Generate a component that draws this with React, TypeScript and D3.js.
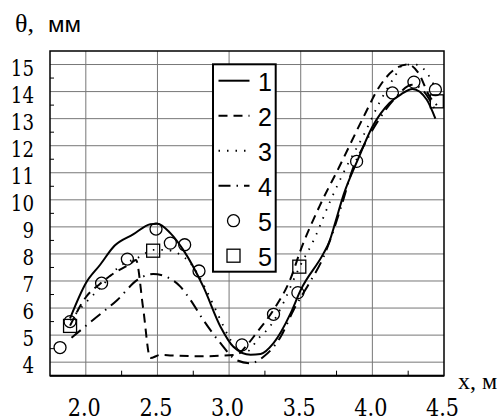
import * as d3 from "d3";

// x, m  /  theta, mm
const curve1: [number, number][] = [
  [1.89, 5.62], [2.0, 6.92], [2.1, 7.6], [2.2, 8.3], [2.33, 8.72], [2.45, 9.1], [2.5, 9.12],
  [2.59, 8.77], [2.68, 8.15], [2.82, 6.79], [2.94, 5.31], [3.03, 4.57], [3.15, 4.27], [3.22, 4.3],
  [3.31, 4.7], [3.43, 5.81], [3.5, 6.67], [3.66, 8.03], [3.7, 8.46], [3.74, 9.14], [3.8, 10.2],
  [3.9, 11.5], [4.0, 12.7], [4.12, 13.58], [4.2, 13.9], [4.28, 14.1], [4.38, 13.7], [4.44, 13.0],
];
const curve2: [number, number][] = [
  [1.89, 5.35], [2.0, 6.4], [2.1, 6.9], [2.2, 7.3], [2.3, 7.6], [2.35, 7.78], [2.4, 6.0],
  [2.45, 4.15], [2.52, 4.27], [2.6, 4.25], [2.8, 4.22], [3.05, 4.27], [3.12, 4.6], [3.19, 5.07],
  [3.31, 5.93], [3.43, 7.1], [3.5, 8.15], [3.63, 9.75], [3.77, 11.23], [3.94, 13.08], [4.05, 14.19],
  [4.15, 14.8], [4.25, 15.0], [4.32, 14.7], [4.4, 13.82], [4.45, 13.5],
];
const curve3: [number, number][] = [
  [1.89, 5.55], [2.0, 6.2], [2.12, 6.86], [2.22, 7.47], [2.38, 7.9], [2.47, 8.15], [2.55, 8.15],
  [2.65, 8.0], [2.73, 7.66], [2.84, 6.67], [2.94, 5.56], [3.01, 4.82], [3.08, 4.35], [3.13, 4.4],
  [3.2, 4.85], [3.29, 5.35], [3.38, 6.2], [3.46, 7.16], [3.5, 7.6], [3.59, 8.5], [3.7, 9.88],
  [3.82, 11.23], [3.94, 12.4], [4.05, 13.6], [4.15, 14.5], [4.22, 15.0], [4.3, 15.0], [4.38, 14.7],
  [4.44, 14.13],
];
const curve4: [number, number][] = [
  [1.9, 4.9], [2.05, 5.56], [2.22, 6.3], [2.36, 7.04], [2.47, 7.26], [2.56, 7.16], [2.66, 6.79],
  [2.73, 6.3], [2.82, 5.56], [2.94, 4.7], [3.05, 4.08], [3.15, 3.96], [3.24, 4.2], [3.36, 4.94],
  [3.45, 5.93], [3.56, 6.92], [3.66, 7.9], [3.73, 8.89], [3.79, 9.88], [3.86, 11.1], [3.95, 12.1],
  [4.05, 13.0], [4.15, 13.7], [4.28, 14.25], [4.36, 14.0], [4.44, 13.3],
];
const circles: [number, number][] = [
  [1.82, 4.54], [1.89, 5.5], [2.11, 6.92], [2.29, 7.81], [2.49, 8.92], [2.59, 8.4], [2.69, 8.34],
  [2.79, 7.37], [3.09, 4.64], [3.31, 5.77], [3.48, 6.57], [3.89, 11.42], [4.14, 13.95],
  [4.29, 14.35], [4.44, 14.07],
];
const squares: [number, number][] = [
  [1.89, 5.34], [2.47, 8.12], [3.49, 7.53], [4.45, 13.64],
];
const xTicks = [2.0, 2.5, 3.0, 3.5, 4.0, 4.5];
const yTicks = [4, 5, 6, 7, 8, 9, 10, 11, 12, 13, 14, 15];
const legendLabels = ["1", "2", "3", "4", "5", "5"];

const W = 498;
const H = 420;
const left = 50, right = 444, top = 51, bottom = 375.7;

// Liberation Serif here has no usable digits, so numbers use DejaVu Serif
const serif = "Liberation Serif, Times New Roman, serif";
const digits = "DejaVu Serif, serif";
const sans = "Liberation Sans, Arial, sans-serif";

const dashes = [null, "9,6", "1.5,7", "12,6,1.5,6"];

export default function App() {
  const x = d3.scaleLinear([1.75, 4.5], [left, right]);
  const y = d3.scaleLinear([3.5, 15.5], [bottom, top]);
  const line = d3
    .line<[number, number]>()
    .x((d) => x(d[0]))
    .y((d) => y(d[1]))
    .curve(d3.curveMonotoneX);

  const series = [curve1, curve2, curve3, curve4];
  const minorX = d3.range(2.25, 4.5, 0.5);
  const minorY = d3.range(4.5, 15.5, 1);

  const lgX = 213, lgY = 64.3, lgW = 62.7, lgH = 207.4;
  const lgStep = 35;

  return (
    <svg width={W} height={H} style={{ position: "absolute", left: 0, top: 0 }}>
      <rect width={W} height={H} fill="white" />
      {/* grid */}
      <g stroke="#777" strokeWidth={1}>
        {xTicks.slice(0, -1).map((t) => (
          <line key={"gx" + t} x1={x(t)} x2={x(t)} y1={top} y2={bottom} />
        ))}
        {yTicks.map((t) => (
          <line key={"gy" + t} x1={left} x2={right} y1={y(t)} y2={y(t)} />
        ))}
      </g>
      <g stroke="black" strokeWidth={1}>
        {minorX.map((t) => (
          <line key={"mx" + t} x1={x(t)} x2={x(t)} y1={bottom} y2={bottom - 5} />
        ))}
        {minorY.map((t) => (
          <line key={"my" + t} x1={left} x2={left + 4} y1={y(t)} y2={y(t)} />
        ))}
      </g>
      {/* curves */}
      <g fill="none" stroke="black" strokeWidth={2}>
        {series.map((s, i) => (
          <path
            key={i}
            d={line(s) ?? ""}
            strokeDasharray={dashes[i] ?? undefined}
            strokeWidth={i === 2 ? 1.8 : 2}
          />
        ))}
      </g>
      <g fill="none" stroke="black" strokeWidth={1.3}>
        {circles.map((d, i) => (
          <circle key={i} cx={x(d[0])} cy={y(d[1])} r={6} />
        ))}
        {squares.map((d, i) => (
          <rect key={i} x={x(d[0]) - 6.5} y={y(d[1]) - 6.5} width={13} height={13} />
        ))}
      </g>
      {/* frame */}
      <rect x={left} y={top} width={right - left} height={bottom - top} fill="none" stroke="black" strokeWidth={1.5} />
      <line x1={left} x2={right} y1={bottom} y2={bottom} stroke="black" strokeWidth={2} />
      {/* y labels */}
      {yTicks.map((t) => (
        <text
          key={t}
          x={34}
          y={y(t) + 11}
          textAnchor="end"
          textLength={String(t).length * 11.6}
          lengthAdjust="spacingAndGlyphs"
          style={{ fontFamily: digits, fontSize: "23px" }}
        >
          {t}
        </text>
      ))}
      {/* x labels */}
      {xTicks.map((t) => (
        <text
          key={t}
          x={x(t) - 18}
          y={415.5}
          textLength={33}
          lengthAdjust="spacingAndGlyphs"
          style={{ fontFamily: digits, fontSize: "25px" }}
        >
          {d3.format(".1f")(t)}
        </text>
      ))}
      <text x={15} y={31.5} style={{ fontFamily: serif, fontSize: "26px" }}>
        θ,
      </text>
      <text
        x={48}
        y={31.5}
        textLength={33}
        lengthAdjust="spacingAndGlyphs"
        style={{ fontFamily: sans, fontSize: "22px" }}
      >
        мм
      </text>
      <text x={458} y={388.5} style={{ fontFamily: serif, fontSize: "24px" }}>
        х, м
      </text>
      {/* legend */}
      <rect x={lgX} y={lgY} width={lgW} height={lgH} fill="white" stroke="black" strokeWidth={2} />
      {legendLabels.map((lab, i) => {
        const cy = lgY + 17.4 + i * lgStep;
        return (
          <g key={i}>
            {i < 4 && (
              <line
                x1={218.5}
                x2={249.5}
                y1={cy - 1}
                y2={cy - 1}
                stroke="black"
                strokeWidth={2}
                strokeDasharray={dashes[i] ?? undefined}
              />
            )}
            {i === 4 && <circle cx={233.5} cy={cy - 1} r={6} fill="none" stroke="black" strokeWidth={1.3} />}
            {i === 5 && (
              <rect x={227} y={cy - 7.5} width={13} height={13} fill="none" stroke="black" strokeWidth={1.3} />
            )}
            <text
              x={272}
              y={cy + 9}
              textAnchor="end"
              style={{ fontFamily: sans, fontSize: "25px" }}
            >
              {lab}
            </text>
          </g>
        );
      })}
    </svg>
  );
}
